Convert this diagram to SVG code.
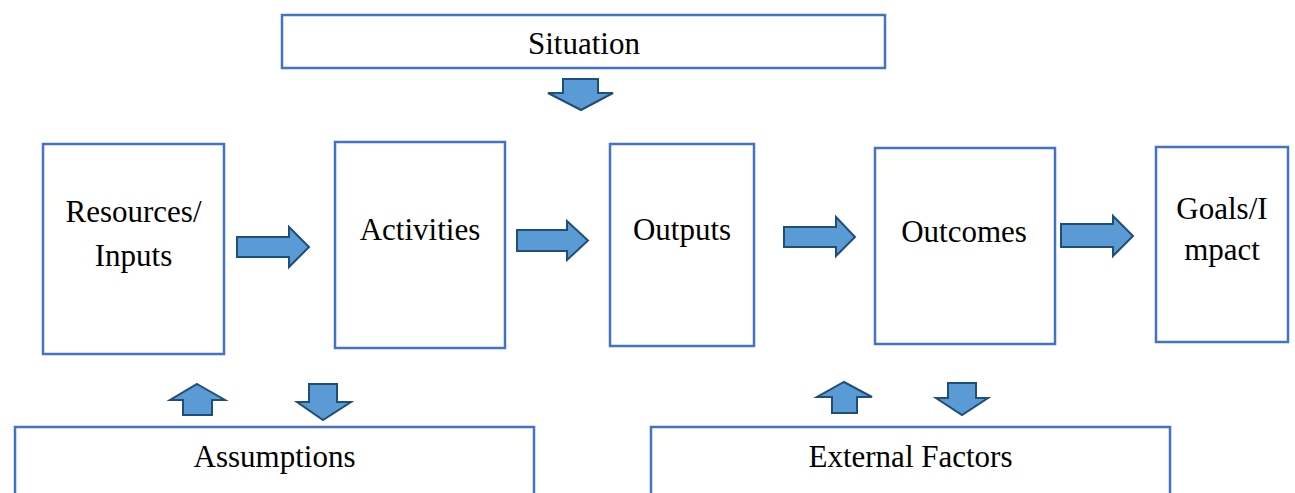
<svg xmlns="http://www.w3.org/2000/svg" width="1295" height="493" viewBox="0 0 1295 493">
<style>
.box{fill:#fff;stroke:#4472C4;stroke-width:2.5}
.arr{fill:#5B9BD5;stroke:#1F4E79;stroke-width:2;stroke-linejoin:miter}
text{font-family:'Liberation Serif','Times New Roman',Times,'DejaVu Serif',serif;font-size:31px;fill:#000;text-anchor:middle}
</style>
<rect width="1295" height="493" fill="#fff"/>
<g font-family="Liberation Serif, Times New Roman, serif">
<g id="situation"><rect class="box" x="282" y="15" width="603" height="53"/><text x="584" y="54">Situation</text></g>
<g id="resources"><rect class="box" x="43" y="144" width="181" height="210"/><text x="133.5" y="222">Resources/</text><text x="133.5" y="266">Inputs</text></g>
<g id="activities"><rect class="box" x="335" y="142" width="170" height="206"/><text x="420" y="240">Activities</text></g>
<g id="outputs"><rect class="box" x="610" y="144" width="144" height="202"/><text x="682" y="240">Outputs</text></g>
<g id="outcomes"><rect class="box" x="875" y="148" width="180" height="196"/><text x="964" y="242">Outcomes</text></g>
<g id="goals"><rect class="box" x="1156" y="147" width="132" height="195"/><text x="1222" y="219">Goals/I</text><text x="1222" y="260">mpact</text></g>
<g id="assumptions"><rect class="box" x="15" y="427" width="519" height="80"/><text x="274.5" y="467">Assumptions</text></g>
<g id="external"><rect class="box" x="651" y="427" width="519" height="80"/><text x="910.5" y="467">External Factors</text></g>
</g>
<g id="connectors">
<polygon class="arr" points="237,237 289,237 289,227 309,247 289,267 289,257 237,257"/>
<polygon class="arr" points="517,230 567,230 567,221 588,240.5 567,260 567,251 517,251"/>
<polygon class="arr" points="784,227 836,227 836,217 855,237 836,256 836,247 784,247"/>
<polygon class="arr" points="1061,224 1113,224 1113,216 1133,236 1113,256 1113,247 1061,247"/>
<polygon class="arr" points="563,79 598,79 598,93 613,93 581,110 548,93 563,93"/>
<polygon class="arr" points="197,384 225,400 212,400 212,415 183,415 183,400 170,400"/>
<polygon class="arr" points="309,384 337,384 337,402 351,402 323,420 297,402 309,402"/>
<polygon class="arr" points="844,382 872,397 857,397 857,413 832,413 832,397 817,397"/>
<polygon class="arr" points="948,383 976,383 976,398 988,398 962,415 936,398 948,398"/>
</g>
</svg>
